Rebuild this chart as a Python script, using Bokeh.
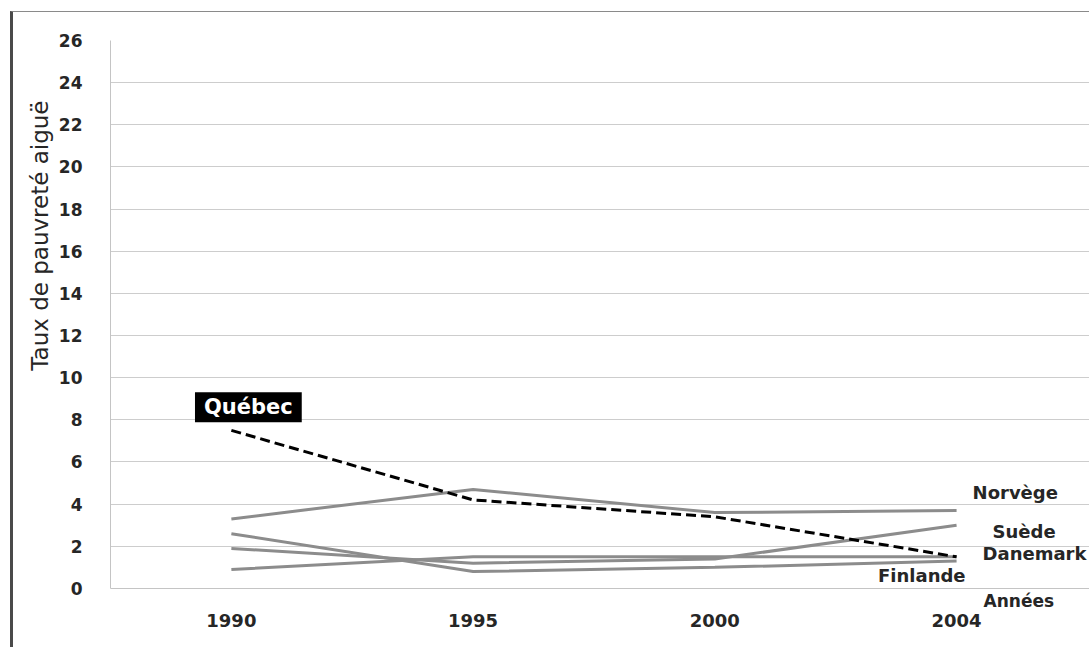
import math
from bokeh.plotting import figure
from bokeh.models import Range1d, FixedTicker, Label, Title
from bokeh.embed import file_html
from bokeh.resources import INLINE

years = ["1990", "1995", "2000", "2004"]
quebec = [7.5, 4.2, 3.4, 1.5]
norvege = [3.3, 4.7, 3.6, 3.7]
suede = [1.9, 1.2, 1.4, 3.0]
danemark = [0.9, 1.5, 1.5, 1.5]
finlande = [2.6, 0.8, 1.0, 1.3]
y_ticks = list(range(0, 27, 2))
y_title = "Taux de pauvreté aiguë"
x_title = "Années"

xs = list(range(len(years)))
n = len(years)

# frame extends a little below 0 and to the right, so the annotations there are not clipped
p = figure(width=1079, height=636, output_backend="svg", toolbar_location=None,
           x_range=Range1d(-0.5, n - 0.5 + 0.054), y_range=Range1d(-2.28, 26),
           min_border_left=97, min_border_right=2, min_border_top=28, min_border_bottom=12,
           styles={"margin-left": "10px", "margin-top": "11px",
                   "border-left": "3px solid #4a4a4a", "border-top": "1px solid #8a8a8a"})
p.outline_line_color = None
p.background_fill_color = "white"
p.border_fill_color = "white"

# axes
p.xaxis.ticker = FixedTicker(ticks=xs)
p.xaxis.major_label_overrides = {i: y for i, y in enumerate(years)}
p.xaxis.fixed_location = 0
p.yaxis.ticker = FixedTicker(ticks=y_ticks)
p.yaxis.bounds = (0, 26)
for ax in (p.xaxis[0], p.yaxis[0]):
    ax.major_tick_line_color = None
    ax.minor_tick_line_color = None
    ax.axis_line_color = "#c4c4c4"
    ax.axis_line_width = 1
    ax.major_label_text_font = "DejaVu Sans"
    ax.major_label_text_font_style = "bold"
    ax.major_label_text_color = "#262626"
p.xaxis.major_label_text_font_size = "18px"
p.yaxis.major_label_text_font_size = "17px"
p.xaxis.major_label_standoff = 20
p.yaxis.major_label_standoff = 22
p.xgrid.grid_line_color = None
p.ygrid.grid_line_color = "#cdcdcd"
p.ygrid.grid_line_width = 1

# y-axis title placed in the left panel
p.add_layout(Title(text=y_title, align="right", offset=60, standoff=6,
                   text_font="DejaVu Sans", text_font_size="23px",
                   text_font_style="normal", text_color="#262626"), "left")

gray = "#8c8c8c"
for series in (norvege, suede, danemark, finlande):
    p.line(xs, series, line_color=gray, line_width=3)
p.line(xs, quebec, line_color="black", line_width=3, line_dash="10 5")

lab_style = dict(text_font="DejaVu Sans", text_font_style="bold",
                 text_font_size="18px", text_color="#262626", text_baseline="middle")
last = n - 1
p.add_layout(Label(x=last, y=4.55, x_offset=16, text="Norvège", text_align="left", **lab_style))
p.add_layout(Label(x=last, y=2.7, x_offset=36, text="Suède", text_align="left", **lab_style))
p.add_layout(Label(x=last, y=1.66, x_offset=26, text="Danemark", text_align="left", **lab_style))
p.add_layout(Label(x=last, y=0.62, x_offset=9, text="Finlande", text_align="right", **lab_style))
p.add_layout(Label(x=last, y=-0.6, x_offset=27, text=x_title, text_align="left",
                   text_font="DejaVu Sans", text_font_style="bold", text_font_size="17px",
                   text_color="#262626", text_baseline="middle"))
p.add_layout(Label(x=0, y=8.6, x_offset=17, text="Québec", text_align="center",
                   text_baseline="middle", text_font="DejaVu Sans", text_font_style="bold",
                   text_font_size="21px", text_color="white",
                   background_fill_color="black",
                   padding=dict(left=9, right=9, top=3, bottom=3)))

open("out.html", "w").write(file_html(p, INLINE))
